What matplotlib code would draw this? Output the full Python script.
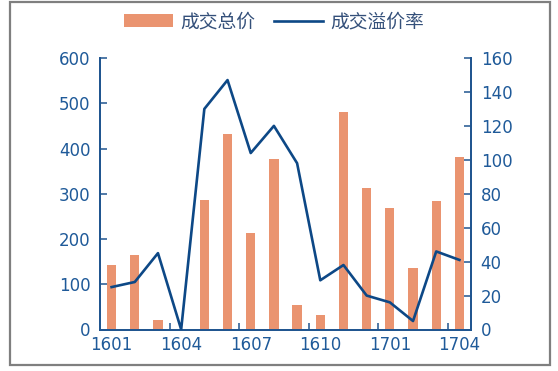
import matplotlib
matplotlib.use("Agg")
import matplotlib.pyplot as plt
import numpy as np
from matplotlib.patches import Rectangle

plt.rcParams['font.family'] = ['DejaVu Sans', 'Noto Sans CJK SC']

categories = ["1601", "1602", "1603", "1604", "1605", "1606", "1607", "1608",
              "1609", "1610", "1611", "1612", "1701", "1702", "1703", "1704"]
total_price = [143, 164, 21, 0, 286, 433, 213, 377, 54, 32, 480, 313, 268, 135, 283, 382]
premium_rate = [25, 28, 45, 0, 130, 147, 104, 120, 98, 29, 38, 20, 16, 5, 46, 41]
shown_labels = ["1601", "1604", "1607", "1610", "1701", "1704"]

bar_color = "#EA9470"
line_color = "#0D4886"
axis_color = "#1F5590"
text_color = "#1F5A99"

fig = plt.figure(figsize=(5.58, 3.71), dpi=100)
ax = fig.add_axes([100/558, 1-329.5/371, (471-100)/558, (329.5-58)/371])
ax2 = ax.twinx()

x = np.arange(len(categories))
b = ax.bar(x, total_price, width=0.4, color=bar_color, label="成交总价", zorder=2)
l, = ax2.plot(x, premium_rate, color=line_color, lw=1.9, label="成交溢价率", zorder=3)

ax.set_xlim(-0.5, len(categories) - 0.5)
ax.set_ylim(0, 600)
ax2.set_ylim(0, 160)
ax.set_yticks(np.arange(0, 601, 100))
ax2.set_yticks(np.arange(0, 161, 20))

# x ticks: labels at every third category, tick marks at boundaries
idx = [categories.index(c) for c in shown_labels]
ax.set_xticks(idx)
ax.set_xticklabels(shown_labels)
ax.tick_params(axis='x', which='major', length=0, pad=5, labelsize=12, labelcolor=text_color)
ax.set_xticks([i - 0.5 for i in idx[1:]], minor=True)
ax.tick_params(axis='x', which='minor', direction='in', length=5, width=1.1, color=axis_color)

ax.tick_params(axis='y', direction='in', length=5, width=1.1, color=axis_color,
               labelsize=12, labelcolor=text_color, pad=7)
ax2.tick_params(axis='y', direction='in', length=5, width=1.1, color=axis_color,
                labelsize=12, labelcolor=text_color, pad=7)

for a in (ax, ax2):
    a.spines['top'].set_visible(False)
    for s in ('left', 'right', 'bottom'):
        a.spines[s].set_color(axis_color)
        a.spines[s].set_linewidth(1.3)
ax.set_zorder(ax2.get_zorder() - 1)
ax.patch.set_visible(False)

leg = fig.legend([b, l], ["成交总价", "成交溢价率"], loc='center', bbox_to_anchor=(0.491, 0.941),
                 ncol=2, frameon=False, handlelength=2.6, handleheight=0.7, handletextpad=0.4,
                 columnspacing=1.0,
                 prop={'family': ['Noto Sans CJK SC'], 'size': 13.5})
for t in leg.get_texts():
    t.set_color("#34507A")

fig.patches.append(Rectangle((10/558, 1-365/371), 540/558, 363/371, transform=fig.transFigure,
                             fill=False, edgecolor="#7F7F7F", linewidth=1.6))

fig.savefig("out.png", dpi=100)
